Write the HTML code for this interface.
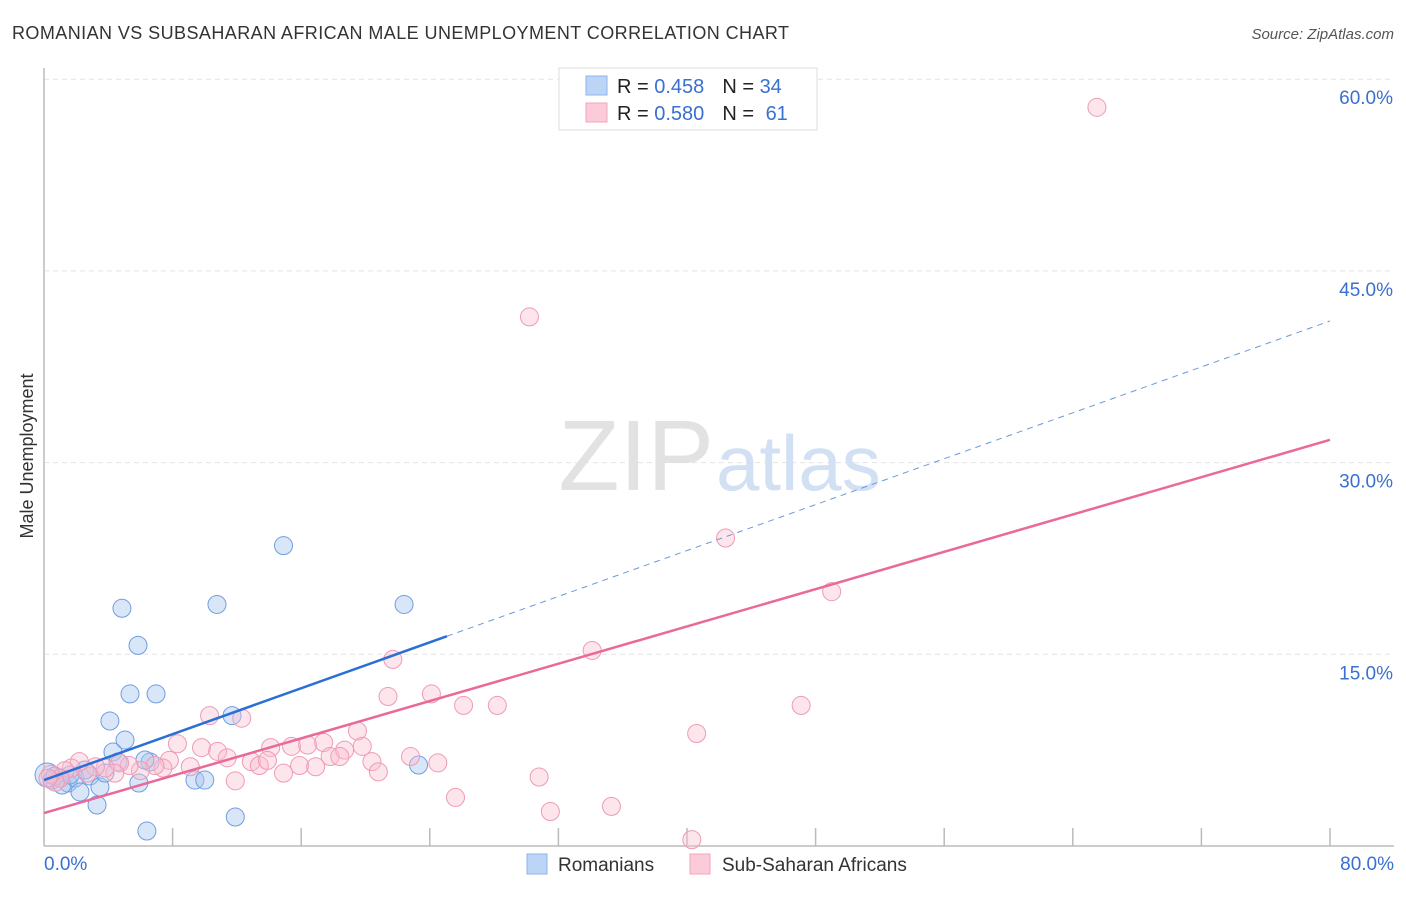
<!DOCTYPE html>
<html><head><meta charset="utf-8"><style>
body{margin:0;background:#fff;font-family:"Liberation Sans",sans-serif;}
svg text{font-family:"Liberation Sans",sans-serif;}
</style></head><body>
<svg id="chart" width="1406" height="892" xmlns="http://www.w3.org/2000/svg">
<text x="12" y="39" font-size="18" fill="#333" textLength="777">ROMANIAN VS SUBSAHARAN AFRICAN MALE UNEMPLOYMENT CORRELATION CHART</text>
<text x="1394" y="39" font-size="15" fill="#555" font-style="italic" text-anchor="end">Source: ZipAtlas.com</text>
<g id="grid"></g>
<text x="714" y="490" font-size="100" font-family="Liberation Serif" fill="#e2e2e2" text-anchor="end">ZIP</text>
<text x="716" y="490" font-size="78" fill="#d2e0f4">atlas</text>
<line x1="44" y1="68" x2="44" y2="846" stroke="#bbb" stroke-width="1.5"/>
<line x1="44" y1="846" x2="1394" y2="846" stroke="#bbb" stroke-width="1.5"/>
<g id="marks"></g>
<text x="33" y="456" font-size="18" fill="#333" text-anchor="middle" transform="rotate(-90 33 456)">Male Unemployment</text>
<text x="44" y="870" font-size="19" fill="#3a70d0">0.0%</text>
<text x="1394" y="870" font-size="19" fill="#3a70d0" text-anchor="end">80.0%</text>
<g>
<rect x="559" y="68" width="258" height="62" fill="#fff" stroke="#ddd"/>
<rect x="586" y="76" width="21" height="19" fill="#bcd4f5" stroke="#8fb3ea"/>
<rect x="586" y="103" width="21" height="19" fill="#fccbd9" stroke="#f0a5bd"/>
<text x="617" y="93" font-size="20" fill="#222">R = <tspan fill="#3a70d0">0.458</tspan><tspan dx="18">N = </tspan><tspan fill="#3a70d0">34</tspan></text>
<text x="617" y="120" font-size="20" fill="#222">R = <tspan fill="#3a70d0">0.580</tspan><tspan dx="18">N = </tspan><tspan fill="#3a70d0" dx="6">61</tspan></text>
</g>
<g>
<rect x="527" y="854" width="20" height="20" fill="#bcd4f5" stroke="#8fb3ea"/>
<text x="558" y="871" font-size="19" fill="#333">Romanians</text>
<rect x="690" y="854" width="20" height="20" fill="#fccbd9" stroke="#f0a5bd"/>
<text x="722" y="871" font-size="19" fill="#333">Sub-Saharan Africans</text>
</g>
</svg>
<script>
const yTicks=[15,30,45,60];
const yTickLabels=["15.0%","30.0%","45.0%","60.0%"];
const xTicks=[8,16,24,32,40,48,56,64,72,80];
const romX=[0.19,0.5,1.0,1.49,1.93,2.24,2.86,3.3,3.48,3.79,4.29,4.6,4.85,5.04,5.35,5.85,4.1,5.9,6.4,6.6,6.97,9.39,10.0,10.76,11.7,11.9,14.9,22.4,23.3,0.68,1.12,2.55,6.28,1.62];
const romY=[5.56,5.16,5.32,4.93,5.32,4.23,5.48,3.21,4.62,5.71,7.36,6.57,18.6,8.29,11.9,15.7,9.78,4.93,1.17,6.57,11.9,5.16,5.16,18.9,10.2,2.27,23.5,18.9,6.34,5.48,4.77,5.95,6.73,5.56];
const ssaX=[65.5,30.2,42.4,49.0,34.1,21.7,24.1,21.4,26.1,28.2,47.1,10.3,12.3,8.3,19.5,9.8,10.8,14.1,15.4,16.4,17.4,19.8,22.8,24.5,40.6,30.8,25.6,31.5,35.3,40.3,11.9,14.9,15.9,16.9,17.8,18.7,20.4,20.8,12.9,13.4,11.4,9.1,7.8,7.4,6.9,6.0,5.3,4.7,4.4,3.8,3.2,2.7,2.2,1.7,1.3,1.0,0.7,0.4,0.25,13.9,18.4];
const ssaY=[57.8,41.4,24.1,19.9,15.3,14.6,11.9,11.7,11.0,11.0,11.0,10.2,10.0,8.0,9.0,7.7,7.4,7.7,7.8,7.9,8.1,7.8,7.0,6.5,8.8,5.4,3.8,2.7,3.1,0.5,5.1,5.7,6.3,6.2,7.0,7.5,6.6,5.8,6.6,6.3,6.9,6.2,6.7,6.1,6.3,5.9,6.3,6.5,5.7,6.1,6.2,5.7,6.6,6.1,5.9,5.3,5.0,5.6,5.3,6.7,7.0];
const romFit=[5.16,0.449];
const ssaFit=[2.58,0.365];
const romSolidEnd=25.07;

const sx=v=>44+v/80*1286;
const sy=v=>846-v/15*191.7;
const NS="http://www.w3.org/2000/svg";
const grid=document.getElementById('grid');
const marks=document.getElementById('marks');
const svg=document.getElementById('chart');
function mk(tag,attrs,parent){const e=document.createElementNS(NS,tag);for(const k in attrs)e.setAttribute(k,attrs[k]);parent.appendChild(e);return e;}
yTicks.forEach((t,i)=>{
  const l=mk('line',{x1:44,x2:1394,y1:sy(t),y2:sy(t),stroke:'#e4e4e4','stroke-dasharray':'5,4'},grid);
  
  
  const tx=mk('text',{x:1393,y:sy(t)+25,'font-size':19,fill:'#3a70d0','text-anchor':'end'},svg);
  tx.textContent=yTickLabels[i];
  
  
});
xTicks.forEach(t=>{
  const l=mk('line',{x1:sx(t),x2:sx(t),y1:828,y2:846,stroke:'#bbb','stroke-width':1.5},grid);
  
  
});
romX.forEach((x,i)=>{
  const c=mk('circle',{cx:sx(x),cy:sy(romY[i]),r:i===0?12:9,fill:'rgba(170,200,240,0.45)',stroke:'#6f9de2','stroke-width':1},marks);
  
  
});
ssaX.forEach((x,i)=>{
  const c=mk('circle',{cx:sx(x),cy:sy(ssaY[i]),r:9,fill:'rgba(250,190,208,0.4)',stroke:'#ef9ab6','stroke-width':1},marks);
  
  
});
const f=(fit,x)=>fit[0]+fit[1]*x;
let l1=mk('line',{x1:sx(0),y1:sy(f(romFit,0)),x2:sx(romSolidEnd),y2:sy(f(romFit,romSolidEnd)),stroke:'#2a6fd6','stroke-width':2.5},marks);


let l2=mk('line',{x1:sx(romSolidEnd),y1:sy(f(romFit,romSolidEnd)),x2:sx(80),y2:sy(f(romFit,80)),stroke:'#6a98dc','stroke-width':1,'stroke-dasharray':'6,5'},marks);


let l3=mk('line',{x1:sx(0),y1:sy(f(ssaFit,0)),x2:sx(80),y2:sy(f(ssaFit,80)),stroke:'#e8699a','stroke-width':2.5},marks);


</script>
</body></html>
